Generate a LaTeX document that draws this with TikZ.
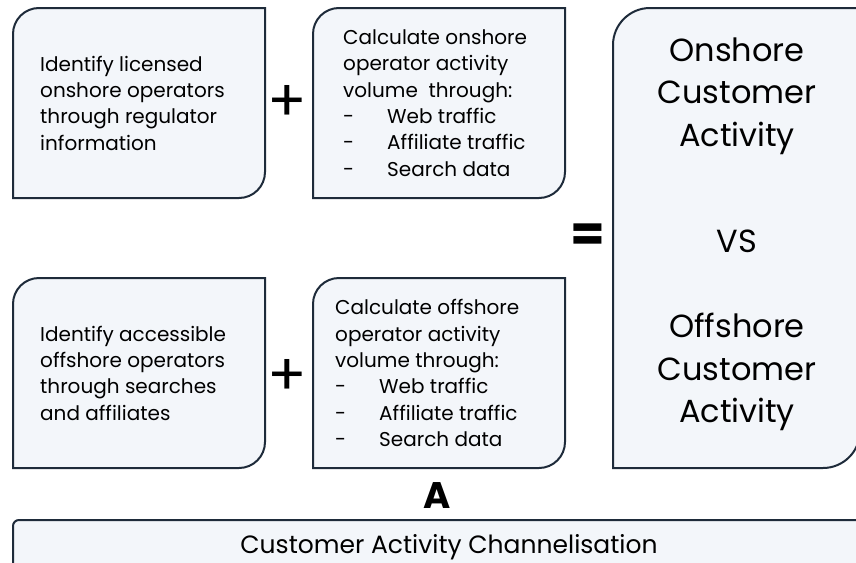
\documentclass[tikz,border=0pt]{standalone}
\usepackage{fontspec}
\setmainfont{Poppins}
\definecolor{boxline}{HTML}{1E2B3A}
\definecolor{boxfill}{HTML}{F3F6FA}
\tikzset{
  shapeline/.style={draw=boxline, fill=boxfill, line width=2pt},
  smalltxt/.style={inner sep=0pt, anchor=west, align=left, font=\fontsize{20}{26.3}\selectfont},
  bigtxt/.style={inner sep=0pt, align=center, font=\fontsize{32}{42.5}\selectfont},
  plustxt/.style={inner sep=0pt, font=\fontsize{58}{58}\selectfont},
}
\newcommand\tlbrbox[5]{%
  \draw[shapeline] (#1,#4) -- (#1,#2+#5) .. controls (#1,#2+0.448*#5) and (#1+0.448*#5,#2) .. (#1+#5,#2)
    -- (#3,#2) -- (#3,#4-#5) .. controls (#3,#4-0.448*#5) and (#3-0.448*#5,#4) .. (#3-#5,#4) -- cycle;}
\newcommand\itm[2]{\makebox[#1][l]{-}#2}
\begin{document}
\begin{tikzpicture}[x=1pt,y=-1pt]
\useasboundingbox (0,0) rectangle (856,562);
\tlbrbox{13}{8}{265}{198}{26}
\tlbrbox{313}{8}{565}{198}{26}
\tlbrbox{13}{278}{265}{468}{26}
\tlbrbox{313}{278}{565}{468}{26}
\tlbrbox{613}{8}{860}{468}{37}
\draw[shapeline, rounded corners=6pt] (13,520) rectangle (880,580);

\node[smalltxt] (t1) at (40,103) {Identify licensed\\onshore operators\\through regulator\\information};
\node[smalltxt] (t2) at (343,103) {Calculate onshore\\operator activity\\volume\ \ through:\\\itm{44pt}{Web traffic}\\\itm{44pt}{Affiliate traffic}\\\itm{44pt}{Search data}};
\node[smalltxt] (t3) at (40,373) {Identify accessible\\offshore operators\\through searches\\and affiliates};
\node[smalltxt] (t4) at (335,373) {Calculate offshore\\operator activity\\volume through:\\\itm{44pt}{Web traffic}\\\itm{44pt}{Affiliate traffic}\\\itm{44pt}{Search data}};

\node[bigtxt] (on) at (737,96) {Onshore\\Customer\\Activity};
\node[bigtxt] (vs) at (737,241) {VS};
\node[bigtxt] (off) at (737,372) {Offshore\\Customer\\Activity};

\node[plustxt] (p1) at (287,103) {+};
\node[plustxt] (p2) at (287,377) {+};
\node[inner sep=0pt, font=\fontsize{50}{50}\selectfont\bfseries] (eq) at (588,238) {=};
\node[inner sep=0pt, font=\fontsize{37}{37}\selectfont\bfseries] (a) at (437,496) {A};
\node[inner sep=0pt, font=\fontsize{25}{25}\selectfont] (cac) at (449,547) {Customer Activity Channelisation};
\end{tikzpicture}
\end{document}
